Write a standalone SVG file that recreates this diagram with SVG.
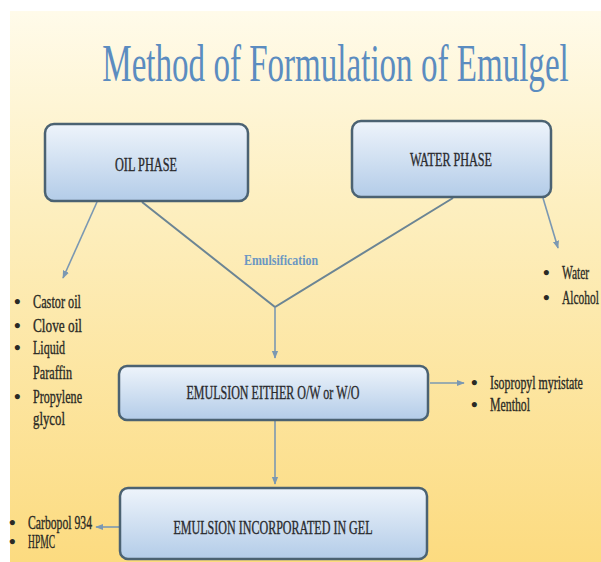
<svg xmlns="http://www.w3.org/2000/svg" width="601" height="562" viewBox="0 0 601 562">
<style>
.box{stroke:#4b6272;stroke-width:2.5;fill:url(#boxg)}
.bt{font-family:"Liberation Serif",serif;font-size:18px;fill:#2a2b2e;stroke:#2a2b2e;stroke-width:0.35;text-anchor:middle}
.li{font-family:"Liberation Serif",serif;font-size:18px;fill:#2a2a25;stroke:#2a2a25;stroke-width:0.35}
.bu{font-family:"Liberation Serif",serif;font-size:19px;font-weight:bold;fill:#2a2a25}
.ln{fill:none;stroke:#7b98b2;stroke-width:1.6}
.vl{fill:none;stroke:#6c8594;stroke-width:2}
</style>
<defs>
<linearGradient id="bg" x1="0" y1="0" x2="0" y2="1">
<stop offset="0" stop-color="#fffbea"/>
<stop offset="0.35" stop-color="#fdefc0"/>
<stop offset="1" stop-color="#fcdb80"/>
</linearGradient>
<linearGradient id="boxg" x1="0" y1="0" x2="0" y2="1">
<stop offset="0" stop-color="#eef4fb"/>
<stop offset="1" stop-color="#b3cce8"/>
</linearGradient>
<marker id="ah" viewBox="0 0 10 10" refX="9" refY="5" markerWidth="5" markerHeight="5" orient="auto">
<path d="M0,1 L10,5 L0,9 z" fill="#7b98b2"/>
</marker>
</defs>
<rect width="601" height="562" fill="#ffffff"/>
<rect x="10" y="11" width="591" height="551" fill="url(#bg)"/>
<text transform="translate(335.5,81) scale(0.636,1)" x="0" y="0" font-family="Liberation Serif, serif" font-size="52" fill="#5b8cc0" text-anchor="middle">Method of Formulation of Emulgel</text>
<g id="connectors">
<line class="ln" x1="97" y1="202" x2="63" y2="278" marker-end="url(#ah)"/>
<polyline class="vl" points="142,202 275,307 453,198"/>
<line class="ln" x1="275" y1="307" x2="275" y2="358" marker-end="url(#ah)"/>
<line class="ln" x1="543" y1="198" x2="558" y2="248" marker-end="url(#ah)"/>
<line class="ln" x1="430" y1="383" x2="464" y2="383" marker-end="url(#ah)"/>
<line class="ln" x1="275" y1="421" x2="275" y2="484" marker-end="url(#ah)"/>
<line class="ln" x1="119" y1="527" x2="96" y2="527" marker-end="url(#ah)"/>
<text x="281" y="265" font-family="Liberation Serif, serif" font-size="15" font-weight="bold" fill="#6b97c2" text-anchor="middle" textLength="74" lengthAdjust="spacingAndGlyphs">Emulsification</text>
</g>
<g id="oil-phase">
<rect class="box" x="45" y="124" width="203" height="77" rx="9"/>
<text class="bt" x="146" y="171" textLength="62" lengthAdjust="spacingAndGlyphs">OIL PHASE</text>
</g>
<g id="water-phase">
<rect class="box" x="352" y="121" width="199" height="76" rx="9"/>
<text class="bt" x="451" y="166" textLength="82" lengthAdjust="spacingAndGlyphs">WATER PHASE</text>
</g>
<g id="emulsion">
<rect class="box" x="119" y="366" width="309" height="54" rx="8"/>
<text class="bt" x="273" y="399" textLength="173" lengthAdjust="spacingAndGlyphs">EMULSION EITHER O/W or W/O</text>
</g>
<g id="gel">
<rect class="box" x="120" y="488" width="307" height="71" rx="8"/>
<text class="bt" x="273" y="534" textLength="199" lengthAdjust="spacingAndGlyphs">EMULSION INCORPORATED IN GEL</text>
</g>
<g id="oil-list">
<text class="bu" x="14" y="308">•</text>
<text class="li" x="33" y="308" textLength="48" lengthAdjust="spacingAndGlyphs">Castor oil</text>
<text class="bu" x="14" y="332">•</text>
<text class="li" x="33" y="332" textLength="49" lengthAdjust="spacingAndGlyphs">Clove oil</text>
<text class="bu" x="14" y="354">•</text>
<text class="li" x="33" y="354" textLength="32" lengthAdjust="spacingAndGlyphs">Liquid</text>
<text class="li" x="33" y="379" textLength="39" lengthAdjust="spacingAndGlyphs">Paraffin</text>
<text class="bu" x="14" y="403">•</text>
<text class="li" x="33" y="403" textLength="49" lengthAdjust="spacingAndGlyphs">Propylene</text>
<text class="li" x="33" y="425" textLength="32" lengthAdjust="spacingAndGlyphs">glycol</text>
</g>
<g id="water-list">
<text class="bu" x="543" y="279">•</text>
<text class="li" transform="translate(562,279) scale(0.636,1)" x="0" y="0">Water</text>
<text class="bu" x="543" y="304">•</text>
<text class="li" transform="translate(562,304) scale(0.636,1)" x="0" y="0">Alcohol</text>
</g>
<g id="emulsion-list">
<text class="bu" x="471" y="389">•</text>
<text class="li" transform="translate(490,389) scale(0.662,1)" x="0" y="0">Isopropyl myristate</text>
<text class="bu" x="471" y="411">•</text>
<text class="li" x="490" y="411" textLength="40" lengthAdjust="spacingAndGlyphs">Menthol</text>
</g>
<g id="gel-list">
<text class="bu" x="9" y="529">•</text>
<text class="li" x="28" y="529" textLength="64" lengthAdjust="spacingAndGlyphs">Carbopol 934</text>
<text class="bu" x="9" y="548">•</text>
<text class="li" x="28" y="548" textLength="27" lengthAdjust="spacingAndGlyphs">HPMC</text>
</g>
</svg>
